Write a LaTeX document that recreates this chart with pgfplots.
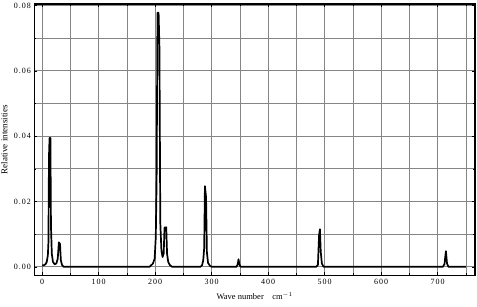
\documentclass[border=0pt]{standalone}
\usepackage{fontspec}
\setmainfont{Liberation Serif}
\usepackage{pgfplots}
\pgfplotsset{compat=1.18}
\begin{document}
\begin{tikzpicture}[x=1pt,y=1pt]
\useasboundingbox (-34.3,-30.7) rectangle (442.7,275.3);
\begin{axis}[
  at={(0,0)}, anchor=south west,
  scale only axis, width=440.7pt, height=271.3pt,
  xmin=-14, xmax=766, ymin=-0.0026, ymax=0.0805,
  xtick={0,100,...,700}, minor xtick={0,50,...,750},
  ytick={0,0.02,...,0.08}, minor ytick={0,0.01,...,0.08},
  yticklabel style={/pgf/number format/.cd, fixed, fixed zerofill, precision=2},
  /pgf/number format/assume math mode=true,
  grid=both,
  major grid style={draw=black!48, line width=0.9pt},
  minor grid style={draw=black!48, line width=0.9pt},
  axis line style={line width=1.1pt},
  tick style={black, line width=0.6pt},
  major tick length=3pt, minor tick length=2pt,
  tick label style={font=\fontsize{8}{9}\selectfont\addfontfeatures{LetterSpace=12}},
  scaled y ticks=false,
  clip=false,
]
\addplot[black, line width=1.7pt, line join=round] coordinates {
(0,0.0004) (3,0.0005) (6,0.0008) (8,0.0015) (10,0.0035) (11,0.0075) (12,0.034) (13,0.0395) (14.5,0.0395) (15.5,0.0125) (17,0.004) (19,0.0015) (22,0.0008) (25,0.001) (27.5,0.0025) (29.5,0.0075) (31.5,0.007) (33,0.002) (35,0.0006) (38,0)
(190,0) (193,0.0005) (196,0.001) (199,0.0025) (201,0.009) (202.5,0.0265) (204,0.0778) (206,0.0778) (207.5,0.067) (209,0.0135) (211,0.005) (213,0.003) (215,0.004) (216.5,0.012) (219.5,0.0121) (221,0.004) (223,0.0015) (226,0.0005) (230,0)
(280,0) (283,0.0005) (285,0.002) (286.7,0.0057) (288,0.0247) (290,0.0213) (291.5,0.0045) (293.5,0.0012) (297,0.0003) (300,0)
(344,0) (346,0.0008) (347.5,0.0023) (349,0.0008) (351,0)
(485,0) (488,0.0006) (490,0.0096) (491.5,0.0115) (493,0.0046) (495,0.001) (498,0)
(709,0) (712,0.0008) (714.5,0.0048) (716.5,0.001) (719,0) (750,0)
};
\node[font=\fontsize{9}{10}\selectfont, rotate=90] at (rel axis cs:-0.068,0.5) {Relative intensities};
\node[font=\fontsize{8.5}{10}\selectfont] at (rel axis cs:0.5,-0.078) {Wave number\quad cm$^{-1}$};
\end{axis}
\end{tikzpicture}
\end{document}
